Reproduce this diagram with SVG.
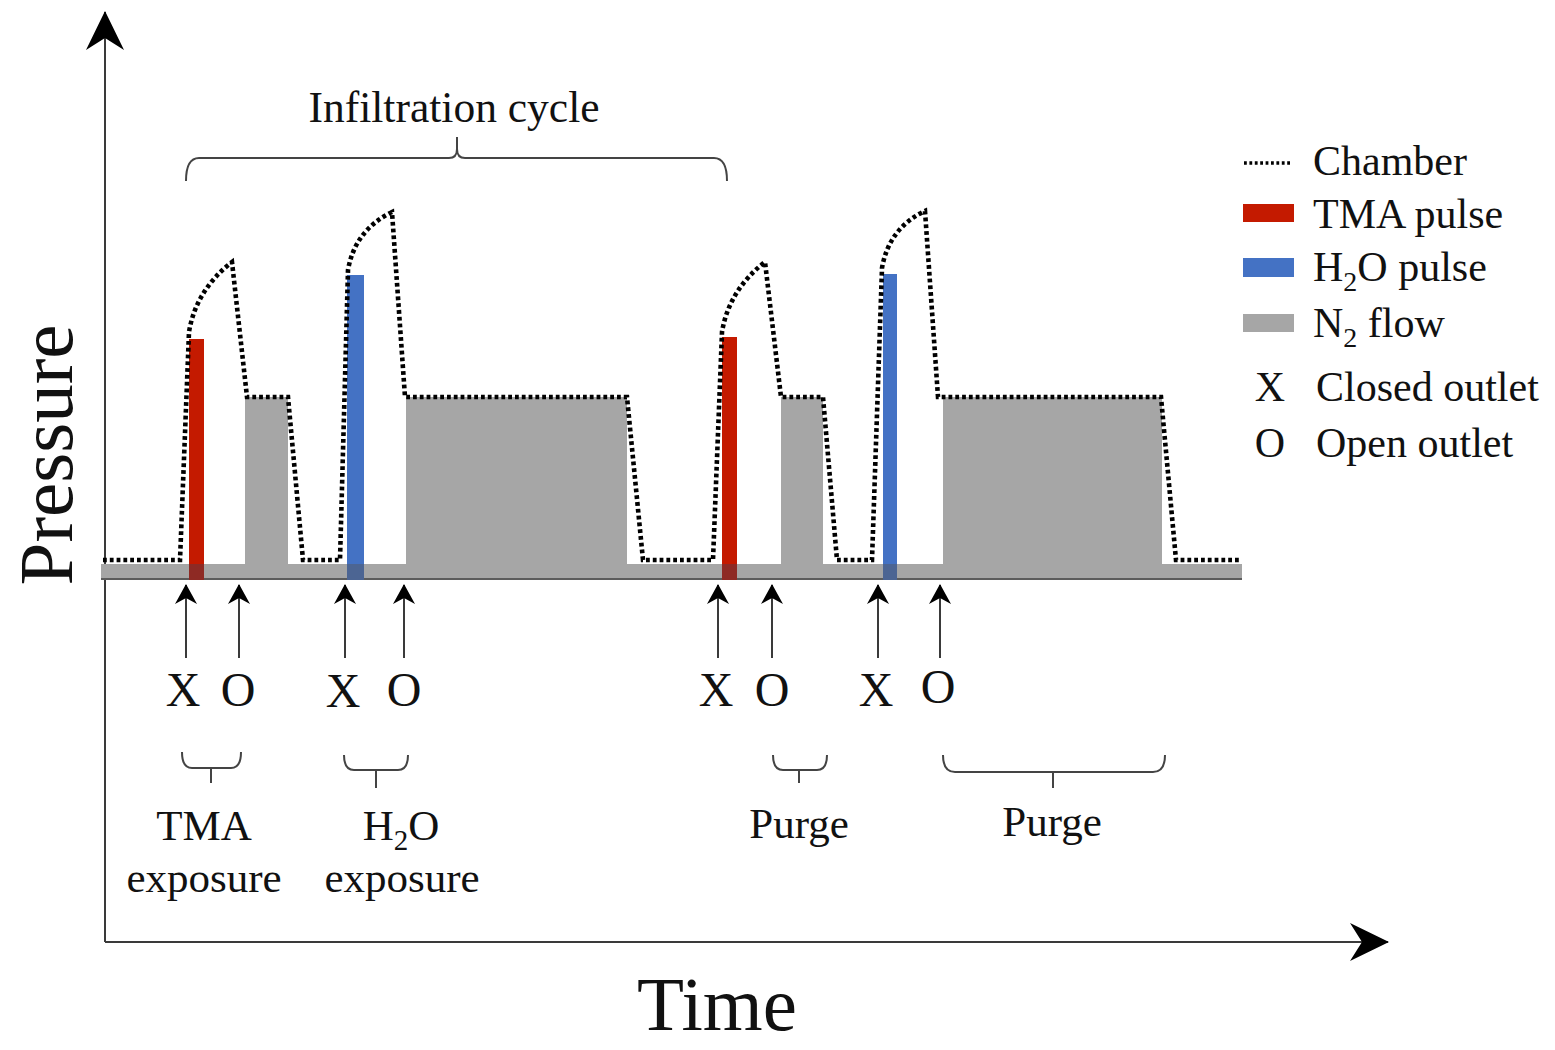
<svg xmlns="http://www.w3.org/2000/svg" width="1555" height="1050" viewBox="0 0 1555 1050">
<style>
  text { font-family: "Liberation Serif", "Times New Roman", serif; fill: #111; }
  .lbl { font-size: 43px; }
  .xo { font-size: 48px; }
  .leg { font-size: 42px; }
  .axis { stroke: #3a3a3a; stroke-width: 2; fill: none; }
  .arr { stroke: #3a3a3a; stroke-width: 2; fill: none; marker-end: url(#ah); }
  .brace { stroke: #444; stroke-width: 2; fill: none; }
  .dots { stroke: #000; stroke-width: 4.6; fill: none; stroke-dasharray: 3.8 3; stroke-linecap: butt; stroke-linejoin: miter; }
  .n2 { fill: #a6a6a6; }
  .tma { fill: #c41a00; }
  .h2o { fill: #4472c4; }
</style>
<defs>
  <marker id="ah" viewBox="-20 -12 22 24" refX="0" refY="0" markerWidth="22" markerHeight="24" markerUnits="userSpaceOnUse" orient="auto">
    <path d="M1,0 L-19,-11 L-13,0 L-19,11 z" fill="#000"/>
  </marker>
  <marker id="bigah" viewBox="-42 -22 44 44" refX="0" refY="0" markerWidth="44" markerHeight="44" markerUnits="userSpaceOnUse" orient="auto">
    <path d="M1,0 L-38,-19 L-26,0 L-38,19 z" fill="#000"/>
  </marker>
</defs>
<rect width="1555" height="1050" fill="#fff"/>

<g id="axes">
  <path class="axis" d="M105,942 V12" marker-end="url(#bigah)"/>
  <path class="axis" d="M105,942 H1388" marker-end="url(#bigah)"/>
</g>

<g id="n2-flow">
  <rect class="n2" x="101" y="564" width="1141" height="14"/>
  <rect class="n2" x="245" y="397" width="43" height="168"/>
  <rect class="n2" x="406" y="397" width="221" height="168"/>
  <rect class="n2" x="781" y="397" width="42" height="168"/>
  <rect class="n2" x="943" y="397" width="219" height="168"/>
  <line x1="101" y1="579" x2="1242" y2="579" stroke="#5c5c5c" stroke-width="2"/>
</g>

<g id="pulses">
  <rect class="tma" x="189" y="339" width="15" height="225"/>
  <rect x="189" y="564" width="15" height="16" fill="#8e2a24"/>
  <rect class="h2o" x="347" y="275" width="17" height="289"/>
  <rect x="347" y="564" width="17" height="16" fill="#4c6593"/>
  <rect class="tma" x="722" y="337" width="15" height="227"/>
  <rect x="722" y="564" width="15" height="16" fill="#8e2a24"/>
  <rect class="h2o" x="883" y="274" width="14" height="290"/>
  <rect x="883" y="564" width="14" height="16" fill="#4c6593"/>
</g>

<g id="chamber-trace">
  <path class="dots" d="M103,560 H180 L189,332 Q196,290 232,262 L247,397 H288 L303,560 H340 L348,270 Q355,230 392,212 L405,397 H627 L643,560 H713 L722,332 Q729,290 765,262 L781,397 H823 L837,560 H872 L882,268 Q889,228 925,211 L938,397 H1161 L1176,560 H1240"/>
</g>

<g id="connectors">
  <line class="arr" x1="186" y1="658" x2="186" y2="585"/>
  <line class="arr" x1="239" y1="658" x2="239" y2="585"/>
  <line class="arr" x1="345" y1="658" x2="345" y2="585"/>
  <line class="arr" x1="404" y1="658" x2="404" y2="585"/>
  <line class="arr" x1="718" y1="658" x2="718" y2="585"/>
  <line class="arr" x1="772" y1="658" x2="772" y2="585"/>
  <line class="arr" x1="878" y1="658" x2="878" y2="585"/>
  <line class="arr" x1="940" y1="658" x2="940" y2="585"/>
</g>

<g id="outlet-labels">
  <text class="xo" x="183" y="706" text-anchor="middle">X</text>
  <text class="xo" x="238" y="706" text-anchor="middle">O</text>
  <text class="xo" x="343" y="707" text-anchor="middle">X</text>
  <text class="xo" x="404" y="706" text-anchor="middle">O</text>
  <text class="xo" x="716" y="706" text-anchor="middle">X</text>
  <text class="xo" x="772" y="706" text-anchor="middle">O</text>
  <text class="xo" x="876" y="706" text-anchor="middle">X</text>
  <text class="xo" x="938" y="703" text-anchor="middle">O</text>
</g>

<g id="cycle-brace">
  <path class="brace" d="M186,181 Q186,158 199,158 H449 Q457,158 457,149 V137 M457,149 Q457,158 465,158 H714 Q727,158 727,181"/>
  <text x="454" y="122" text-anchor="middle" style="font-size:43.5px">Infiltration cycle</text>
</g>

<g id="tma-exposure">
  <path class="brace" d="M182,752 Q182,768 192,768 H231 Q241,768 241,752 M211,768 V783"/>
  <text class="lbl" x="204" y="840" text-anchor="middle">TMA</text>
  <text class="lbl" x="204" y="892" text-anchor="middle">exposure</text>
</g>

<g id="h2o-exposure">
  <path class="brace" d="M344,755 Q344,770 354,770 H398 Q408,770 408,755 M376,770 V788"/>
  <text class="lbl" x="401" y="840" text-anchor="middle">H<tspan font-size="29" dy="10">2</tspan><tspan dy="-10">O</tspan></text>
  <text class="lbl" x="402" y="892" text-anchor="middle">exposure</text>
</g>

<g id="purge-1">
  <path class="brace" d="M773,755 Q773,770 783,770 H817 Q827,770 827,755 M799,770 V783"/>
  <text class="lbl" x="799" y="838" text-anchor="middle">Purge</text>
</g>

<g id="purge-2">
  <path class="brace" d="M943,755 Q943,772 955,772 H1153 Q1165,772 1165,755 M1053,772 V788"/>
  <text class="lbl" x="1052" y="836" text-anchor="middle">Purge</text>
</g>

<g id="axis-titles">
  <text x="72" y="455" text-anchor="middle" transform="rotate(-90 72 455)" style="font-size:77px">Pressure</text>
  <text x="717" y="1030" text-anchor="middle" style="font-size:77px">Time</text>
</g>

<g id="legend">
  <line x1="1244" y1="163" x2="1292" y2="163" stroke="#000" stroke-width="3.4" stroke-dasharray="2.8 2.6"/>
  <text class="leg" x="1313" y="175">Chamber</text>
  <rect class="tma" x="1243" y="204" width="51" height="18"/>
  <text class="leg" x="1313" y="228">TMA pulse</text>
  <rect class="h2o" x="1243" y="258" width="51" height="19"/>
  <text class="leg" x="1313" y="281">H<tspan font-size="28" dy="10">2</tspan><tspan dy="-10">O pulse</tspan></text>
  <rect class="n2" x="1243" y="314" width="51" height="18"/>
  <text class="leg" x="1313" y="337">N<tspan font-size="28" dy="10">2</tspan><tspan dy="-10"> flow</tspan></text>
  <text class="leg" x="1270" y="401" text-anchor="middle">X</text>
  <text class="leg" x="1316" y="401">Closed outlet</text>
  <text class="leg" x="1270" y="457" text-anchor="middle">O</text>
  <text class="leg" x="1316" y="457">Open outlet</text>
</g>
</svg>
